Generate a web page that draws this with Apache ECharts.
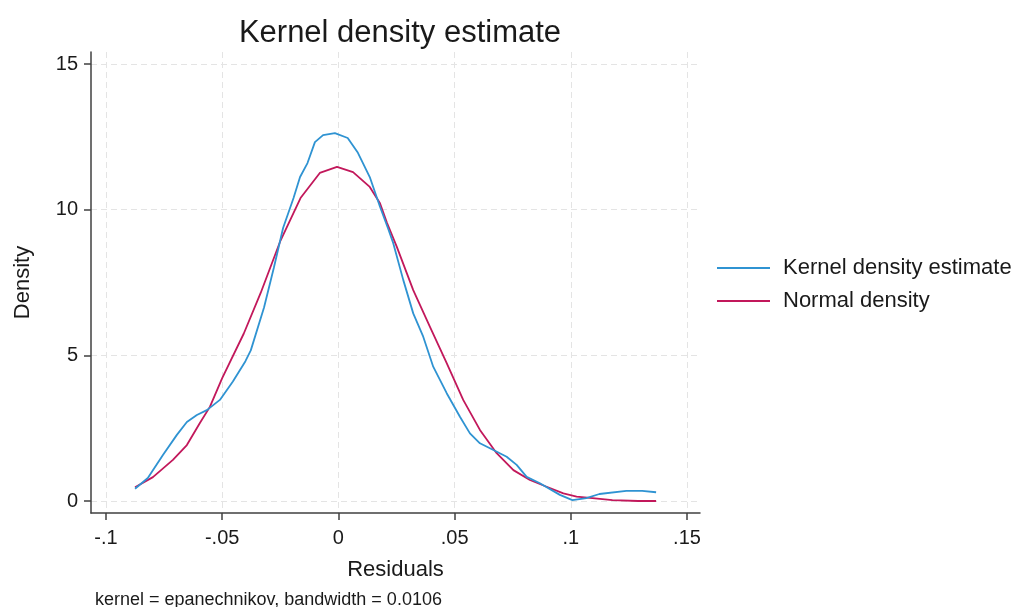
<!DOCTYPE html>
<html>
<head>
<meta charset="utf-8">
<script src="https://cdn.jsdelivr.net/npm/echarts@6/dist/echarts.min.js"></script>
<style>
html,body{margin:0;padding:0;background:#fff;}
#chart{width:1018px;height:607px;}
</style>
</head>
<body>
<div id="chart"></div>
<script>
// Kernel density estimate
const kdeX = [-0.0875, -0.0820, -0.0755, -0.0695, -0.0652, -0.0609, -0.0566, -0.0510, -0.0454, -0.0400, -0.0377, -0.0320, -0.0278, -0.0238, -0.0193, -0.0165, -0.0133, -0.0101, -0.0066, -0.0015, 0.0040, 0.0084, 0.0135, 0.0179, 0.0213, 0.0236, 0.0279, 0.0322, 0.0365, 0.0408, 0.0466, 0.0523, 0.0566, 0.0609, 0.0667, 0.0724, 0.0767, 0.0810, 0.0867, 0.0953, 0.1007, 0.1067, 0.1123, 0.1239, 0.1307, 0.1367];
const kdeY = [0.42, 0.79, 1.58, 2.27, 2.71, 2.95, 3.12, 3.47, 4.10, 4.80, 5.17, 6.64, 8.00, 9.37, 10.40, 11.12, 11.60, 12.32, 12.56, 12.63, 12.46, 11.95, 11.12, 10.10, 9.37, 8.85, 7.59, 6.44, 5.64, 4.61, 3.70, 2.89, 2.32, 1.98, 1.75, 1.52, 1.24, 0.83, 0.61, 0.21, 0.03, 0.10, 0.24, 0.35, 0.35, 0.30];
// Normal density
const normX = [-0.0875, -0.0798, -0.0712, -0.0652, -0.0596, -0.0553, -0.0500, -0.0407, -0.0334, -0.0249, -0.0163, -0.0080, -0.0006, 0.0063, 0.0135, 0.0179, 0.0209, 0.0251, 0.0322, 0.0394, 0.0466, 0.0537, 0.0609, 0.0681, 0.0753, 0.0824, 0.0896, 0.0968, 0.1025, 0.1093, 0.1179, 0.1290, 0.1367];
const normY = [0.47, 0.82, 1.41, 1.92, 2.68, 3.23, 4.22, 5.75, 7.15, 8.94, 10.40, 11.26, 11.47, 11.29, 10.78, 10.22, 9.55, 8.73, 7.24, 5.98, 4.73, 3.47, 2.44, 1.64, 1.06, 0.72, 0.49, 0.26, 0.15, 0.10, 0.03, 0.00, 0.00];

const xTicks = [-0.1, -0.05, 0, 0.05, 0.1, 0.15];
const xTickLabels = ['-.1', '-.05', '0', '.05', '.1', '.15'];
const yTicks = [0, 5, 10, 15];
const yTickLabels = ['0', '5', '10', '15'];

const seriesNames = ['Kernel density estimate', 'Normal density'];
const titleText = 'Kernel density estimate';
const xName = 'Residuals';
const yName = 'Density';
const noteText = 'kernel = epanechnikov, bandwidth = 0.0106';

function pairs(xs, ys) { return xs.map((x, i) => [x, ys[i]]); }
function labelFor(ticks, labels) {
  return function (v) {
    let best = 0, d = Infinity;
    ticks.forEach((t, i) => { const dd = Math.abs(t - v); if (dd < d) { d = dd; best = i; } });
    return d < 1e-6 ? labels[best] : '';
  };
}

const FONT = "'Liberation Sans', Arial, sans-serif";
const chart = echarts.init(document.getElementById('chart'));
chart.setOption({
  backgroundColor: '#ffffff',
  animation: false,
  title: [
    { text: titleText, left: 395, top: 13, textAlign: 'center',
      textStyle: { fontFamily: FONT, fontSize: 31, fontWeight: 'normal', color: '#1a1a1a' } },
    { text: noteText, left: 90, top: 586,
      textStyle: { fontFamily: FONT, fontSize: 18, fontWeight: 'normal', color: '#1a1a1a' } }
  ],
  legend: {
    orient: 'vertical', left: 712, top: 252,
    icon: 'rect', itemWidth: 53, itemHeight: 2, itemGap: 11,
    textStyle: { fontFamily: FONT, fontSize: 22, color: '#1a1a1a', padding: [0, 0, 0, 8] },
    data: seriesNames
  },
  grid: { left: 91, right: 318, top: 52, bottom: 94, containLabel: false },
  xAxis: {
    type: 'value', min: -0.10645, max: 0.15559,
    name: xName, nameLocation: 'middle', nameGap: 46,
    nameTextStyle: { fontFamily: FONT, fontSize: 22, color: '#1a1a1a' },
    axisLine: { show: true, onZero: false, lineStyle: { color: '#404040', width: 1.5 } },
    axisTick: { show: true, length: 7, customValues: xTicks, lineStyle: { color: '#404040', width: 1.5 } },
    axisLabel: { customValues: xTicks, margin: 15, fontFamily: FONT, fontSize: 20, color: '#1a1a1a',
      formatter: labelFor(xTicks, xTickLabels) },
    splitLine: { show: true, lineStyle: { color: '#e4e4e4', width: 1, type: [6, 4] } }
  },
  yAxis: {
    type: 'value', min: -0.412, max: 15.412,
    name: yName, nameLocation: 'middle', nameGap: 57,
    nameTextStyle: { fontFamily: FONT, fontSize: 22, color: '#1a1a1a' },
    axisLine: { show: true, onZero: false, lineStyle: { color: '#404040', width: 1.5 } },
    axisTick: { show: true, length: 7, customValues: yTicks, lineStyle: { color: '#404040', width: 1.5 } },
    axisLabel: { customValues: yTicks, margin: 13, fontFamily: FONT, fontSize: 20, color: '#1a1a1a',
      formatter: labelFor(yTicks, yTickLabels) },
    splitLine: { show: true, lineStyle: { color: '#e4e4e4', width: 1, type: [6, 4] } }
  },
  series: [
    { name: seriesNames[0], type: 'line', data: pairs(kdeX, kdeY), symbol: 'none', smooth: false,
      lineStyle: { color: '#2f93d2', width: 1.8 }, itemStyle: { color: '#2f93d2' }, z: 3 },
    { name: seriesNames[1], type: 'line', data: pairs(normX, normY), symbol: 'none', smooth: false,
      lineStyle: { color: '#c2185b', width: 1.8 }, itemStyle: { color: '#c2185b' }, z: 2 }
  ]
});
</script>
</body>
</html>
